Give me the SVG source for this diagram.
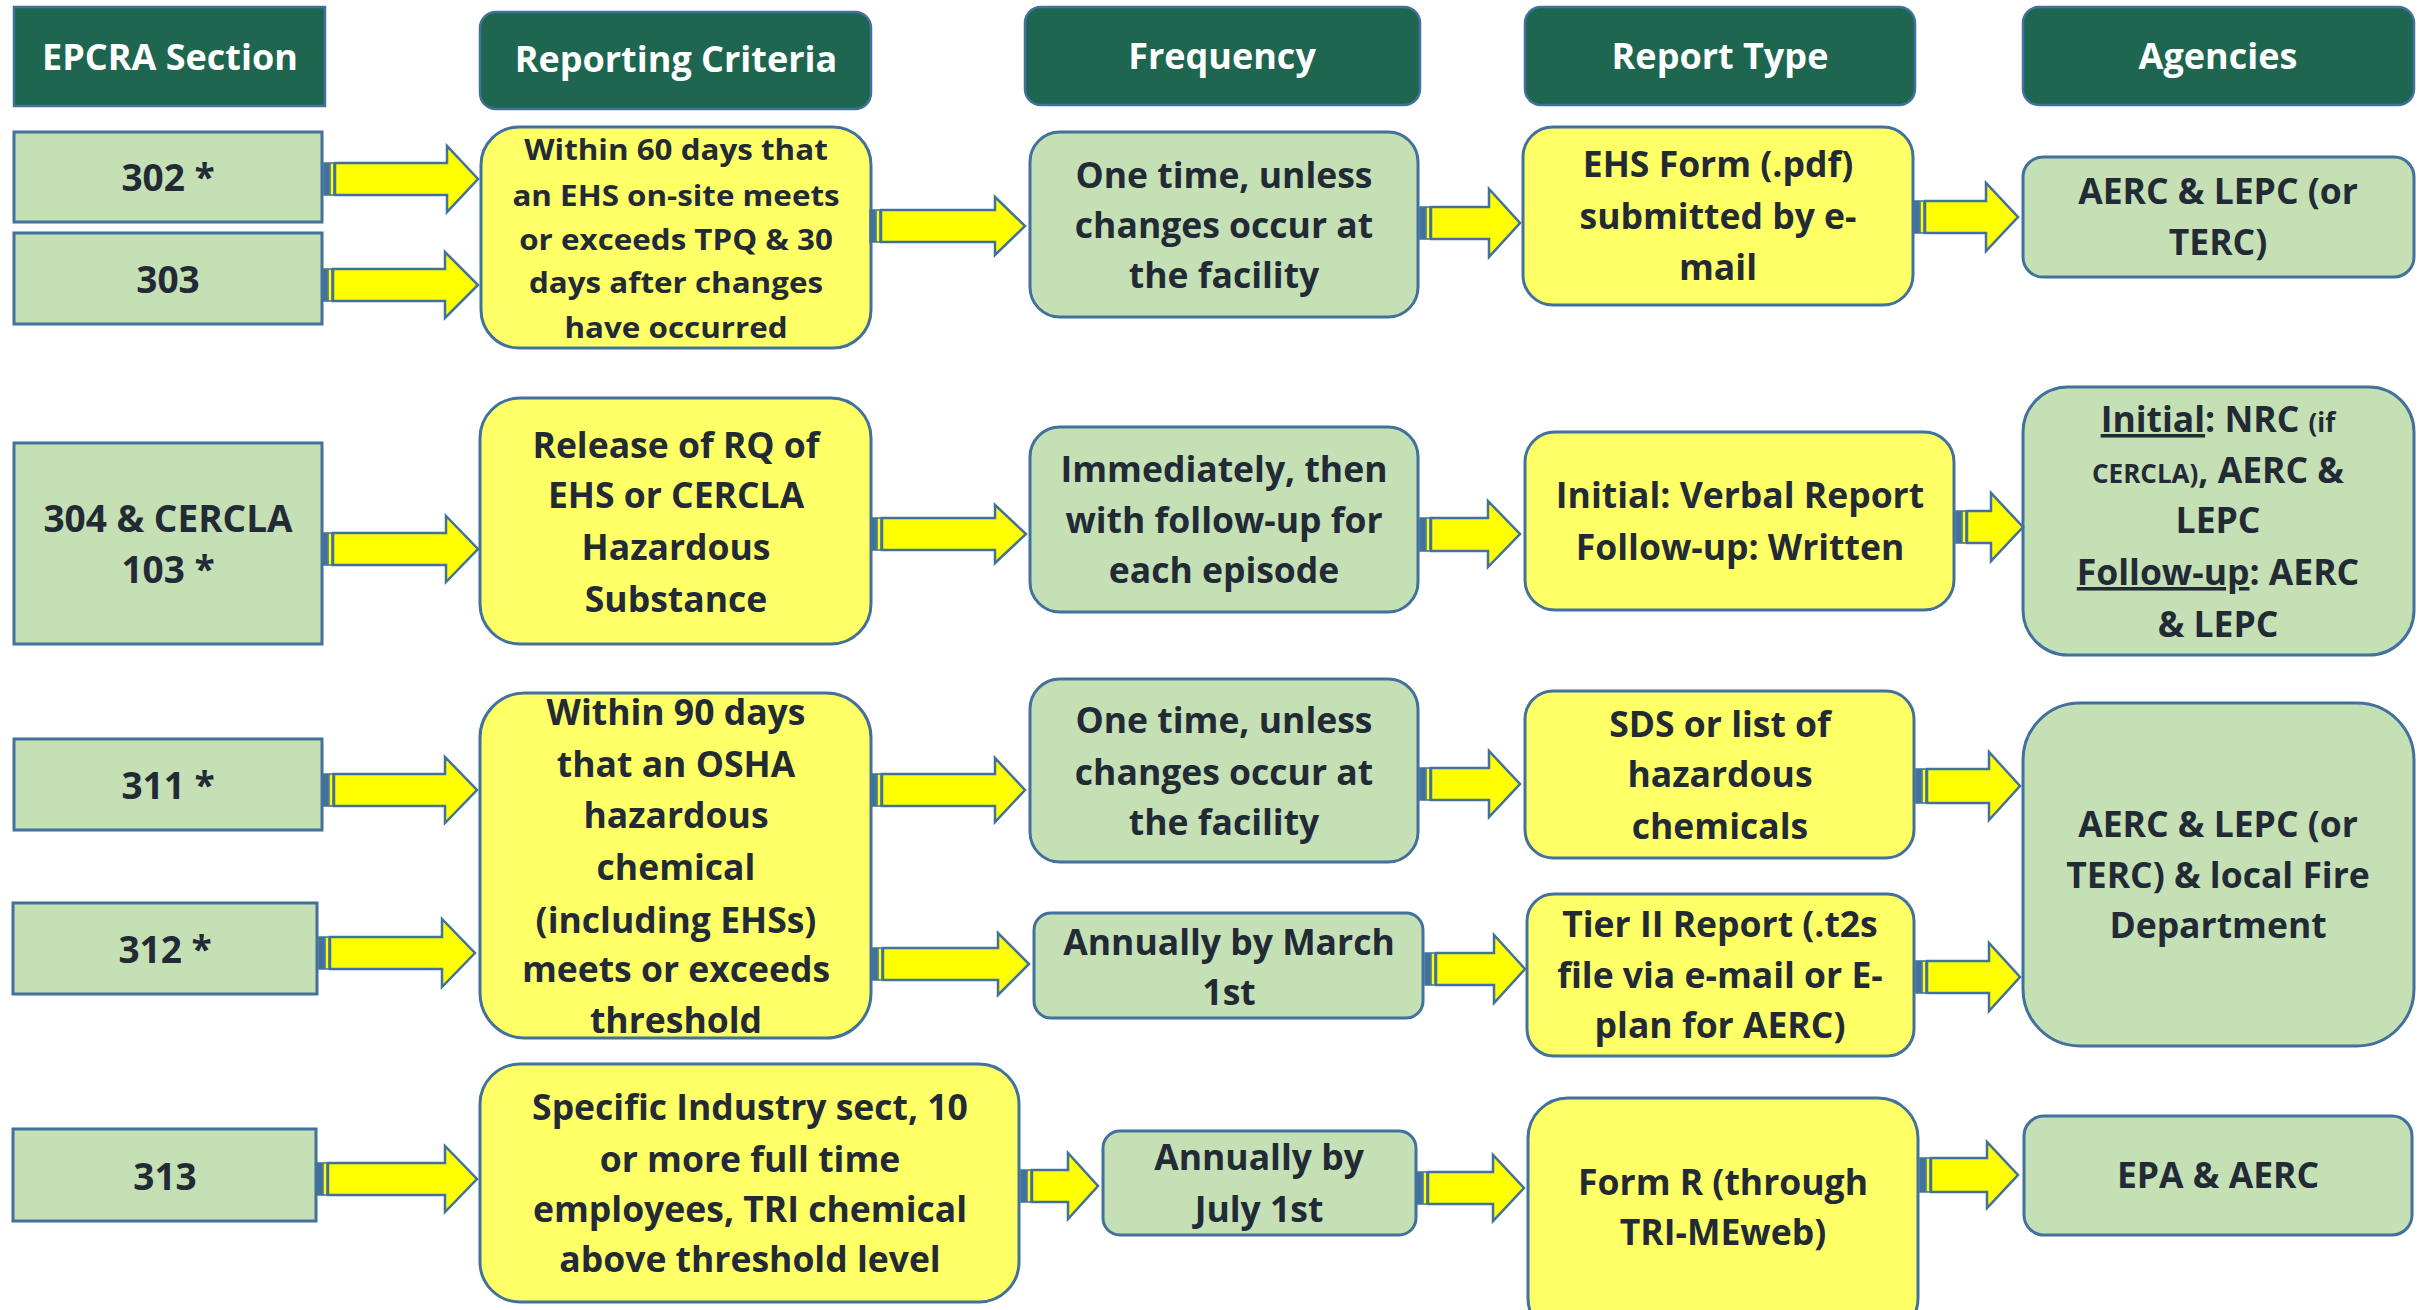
<svg xmlns="http://www.w3.org/2000/svg" width="2425" height="1310" viewBox="0 0 2425 1310">
<style>
  .bg{fill:#FFFFFF}
  .hdr{fill:#1E6650;stroke:#41719C;stroke-width:2.5}
  .sec{fill:#C5E0B4;stroke:#41719C;stroke-width:3}
  .grn{fill:#C5E0B4;stroke:#41719C;stroke-width:3}
  .yel{fill:#FFFF66;stroke:#41719C;stroke-width:3}
  text{font-family:"Open Sans","Liberation Sans",sans-serif;font-weight:700;font-size:35.5px;fill:#222A35;text-anchor:middle}
  .ht{fill:#FFFFFF;font-size:36px}
  .st{font-size:37px}
  .sm{font-size:26px}
  .ul{text-decoration:underline}
  .ab{fill:#41719C;stroke:#41719C;stroke-width:1.5}
  .as{fill:#FFFF00;stroke:#41719C;stroke-width:1.5}
  .ar{fill:#FFFF00;stroke:#41719C;stroke-width:2.5;stroke-linejoin:miter}
</style>
<rect class="bg" x="0" y="0" width="2425" height="1310"/>

<!-- Headers -->
<g id="hdr-section"><rect class="hdr" x="14" y="7" width="311" height="99"/><text class="ht" x="170" y="70">EPCRA Section</text></g>
<g id="hdr-criteria"><rect class="hdr" x="480" y="12" width="391" height="97" rx="16"/><text class="ht" x="676" y="72">Reporting Criteria</text></g>
<g id="hdr-frequency"><rect class="hdr" x="1025" y="7" width="395" height="98" rx="16"/><text class="ht" x="1222" y="69">Frequency</text></g>
<g id="hdr-reporttype"><rect class="hdr" x="1525" y="7" width="390" height="98" rx="16"/><text class="ht" x="1720" y="69">Report Type</text></g>
<g id="hdr-agencies"><rect class="hdr" x="2023" y="7" width="391" height="98" rx="16"/><text class="ht" x="2218" y="69">Agencies</text></g>

<!-- Section nodes -->
<g id="s302"><rect class="sec" x="14" y="132" width="308" height="90"/><text class="st" x="168" y="191">302 *</text></g>
<g id="s303"><rect class="sec" x="14" y="233" width="308" height="91"/><text class="st" x="168" y="293">303</text></g>
<g id="s304"><rect class="sec" x="14" y="443" width="308" height="201"/><text class="st" x="168" y="532">304 &amp; CERCLA</text><text class="st" x="168" y="583">103 *</text></g>
<g id="s311"><rect class="sec" x="14" y="739" width="308" height="91"/><text class="st" x="168" y="799">311 *</text></g>
<g id="s312"><rect class="sec" x="13" y="903" width="304" height="91"/><text class="st" x="165" y="963">312 *</text></g>
<g id="s313"><rect class="sec" x="13" y="1129" width="303" height="92"/><text class="st" x="165" y="1190">313</text></g>

<!-- Criteria nodes -->
<g id="crit-60days"><rect class="yel" x="481" y="127" width="390" height="221" rx="38"/>
<text transform="translate(676 0) scale(1.12 1)" style="font-size:28px"><tspan x="0" y="160">Within 60 days that</tspan><tspan x="0" y="206">an EHS on-site meets</tspan><tspan x="0" y="250">or exceeds TPQ &amp; 30</tspan><tspan x="0" y="293">days after changes</tspan><tspan x="0" y="338">have occurred</tspan></text></g>
<g id="crit-release"><rect class="yel" x="480" y="398" width="391" height="246" rx="40"/>
<text transform="translate(676 0)"><tspan x="0" y="458">Release of RQ of</tspan><tspan x="0" y="508">EHS or CERCLA</tspan><tspan x="0" y="560">Hazardous</tspan><tspan x="0" y="612">Substance</tspan></text></g>
<g id="crit-90days"><rect class="yel" x="480" y="693" width="391" height="345" rx="45"/>
<text transform="translate(676 0)"><tspan x="0" y="725">Within 90 days</tspan><tspan x="0" y="777">that an OSHA</tspan><tspan x="0" y="828">hazardous</tspan><tspan x="0" y="880">chemical</tspan><tspan x="0" y="933">(including EHSs)</tspan><tspan x="0" y="982">meets or exceeds</tspan><tspan x="0" y="1033">threshold</tspan></text></g>
<g id="crit-industry"><rect class="yel" x="480" y="1064" width="539" height="238" rx="40"/>
<text transform="translate(750 0)"><tspan x="0" y="1120">Specific Industry sect, 10</tspan><tspan x="0" y="1172">or more full time</tspan><tspan x="0" y="1222">employees, TRI chemical</tspan><tspan x="0" y="1272">above threshold level</tspan></text></g>

<!-- Frequency nodes -->
<g id="freq-onetime-1"><rect class="grn" x="1030" y="132" width="388" height="185" rx="30"/>
<text transform="translate(1224 0)"><tspan x="0" y="188">One time, unless</tspan><tspan x="0" y="238">changes occur at</tspan><tspan x="0" y="288">the facility</tspan></text></g>
<g id="freq-immediately"><rect class="grn" x="1030" y="427" width="388" height="185" rx="30"/>
<text transform="translate(1224 0)"><tspan x="0" y="482">Immediately, then</tspan><tspan x="0" y="533">with follow-up for</tspan><tspan x="0" y="583">each episode</tspan></text></g>
<g id="freq-onetime-2"><rect class="grn" x="1030" y="679" width="388" height="183" rx="30"/>
<text transform="translate(1224 0)"><tspan x="0" y="733">One time, unless</tspan><tspan x="0" y="785">changes occur at</tspan><tspan x="0" y="835">the facility</tspan></text></g>
<g id="freq-march"><rect class="grn" x="1034" y="913" width="389" height="105" rx="17"/>
<text transform="translate(1229 0)"><tspan x="0" y="955">Annually by March</tspan><tspan x="0" y="1005">1st</tspan></text></g>
<g id="freq-july"><rect class="grn" x="1103" y="1131" width="313" height="104" rx="17"/>
<text transform="translate(1259 0)"><tspan x="0" y="1170">Annually by</tspan><tspan x="0" y="1222">July 1st</tspan></text></g>

<!-- Report type nodes -->
<g id="rep-ehsform"><rect class="yel" x="1523" y="127" width="390" height="178" rx="30"/>
<text transform="translate(1718 0)"><tspan x="0" y="177">EHS Form (.pdf)</tspan><tspan x="0" y="229">submitted by e-</tspan><tspan x="0" y="280">mail</tspan></text></g>
<g id="rep-verbal"><rect class="yel" x="1525" y="432" width="429" height="178" rx="30"/>
<text transform="translate(1740 0)"><tspan x="0" y="508">Initial: Verbal Report</tspan><tspan x="0" y="560">Follow-up: Written</tspan></text></g>
<g id="rep-sds"><rect class="yel" x="1525" y="691" width="389" height="167" rx="28"/>
<text transform="translate(1720 0)"><tspan x="0" y="737">SDS or list of</tspan><tspan x="0" y="787">hazardous</tspan><tspan x="0" y="839">chemicals</tspan></text></g>
<g id="rep-tier2"><rect class="yel" x="1527" y="894" width="387" height="162" rx="27"/>
<text transform="translate(1720 0)"><tspan x="0" y="937">Tier II Report (.t2s</tspan><tspan x="0" y="988">file via e-mail or E-</tspan><tspan x="0" y="1038">plan for AERC)</tspan></text></g>
<g id="rep-formr"><rect class="yel" x="1528" y="1098" width="390" height="240" rx="40"/>
<text transform="translate(1723 0)"><tspan x="0" y="1195">Form R (through</tspan><tspan x="0" y="1245">TRI-MEweb)</tspan></text></g>

<!-- Agency nodes -->
<g id="ag-aerc-lepc"><rect class="grn" x="2023" y="157" width="391" height="120" rx="20"/>
<text transform="translate(2218 0)"><tspan x="0" y="204">AERC &amp; LEPC (or</tspan><tspan x="0" y="255">TERC)</tspan></text></g>
<g id="ag-nrc"><rect class="grn" x="2023" y="387" width="391" height="268" rx="45"/>
<text transform="translate(2218 0)"><tspan x="0" y="432"><tspan class="ul">Initial</tspan>: NRC <tspan class="sm">(if</tspan></tspan><tspan x="0" y="483"><tspan class="sm">CERCLA)</tspan>, AERC &amp;</tspan><tspan x="0" y="533">LEPC</tspan><tspan x="0" y="585"><tspan class="ul">Follow-up</tspan>: AERC</tspan><tspan x="0" y="637">&amp; LEPC</tspan></text></g>
<g id="ag-fire"><rect class="grn" x="2023" y="703" width="391" height="343" rx="57"/>
<text transform="translate(2218 0)"><tspan x="0" y="837">AERC &amp; LEPC (or</tspan><tspan x="0" y="888">TERC) &amp; local Fire</tspan><tspan x="0" y="938">Department</tspan></text></g>
<g id="ag-epa"><rect class="grn" x="2024" y="1116" width="388" height="119" rx="20"/>
<text x="2218" y="1188">EPA &amp; AERC</text></g>

<!-- Connectors: striped block arrows -->
<g id="connectors">
  <g id="a1"><rect class="ab" x="324" y="163" width="5" height="32"/><rect class="as" x="330" y="163" width="4" height="32"/><polygon class="ar" points="335,163 447,163 447,146 478,179 447,212 447,195 335,195"/></g>
  <g id="a2"><rect class="ab" x="322" y="269" width="5" height="32"/><rect class="as" x="328" y="269" width="4" height="32"/><polygon class="ar" points="333,269 445,269 445,252 478,285 445,318 445,301 333,301"/></g>
  <g id="a3"><rect class="ab" x="870" y="210" width="5" height="32"/><rect class="as" x="876" y="210" width="4" height="32"/><polygon class="ar" points="881,210 995,210 995,197 1025,226 995,255 995,242 881,242"/></g>
  <g id="a4"><rect class="ab" x="1420" y="207" width="5" height="32"/><rect class="as" x="1426" y="207" width="4" height="32"/><polygon class="ar" points="1431,207 1489,207 1489,189 1520,223 1489,257 1489,239 1431,239"/></g>
  <g id="a5"><rect class="ab" x="1914" y="201" width="5" height="32"/><rect class="as" x="1920" y="201" width="4" height="32"/><polygon class="ar" points="1925,201 1986,201 1986,183 2018,217 1986,251 1986,233 1925,233"/></g>
  <g id="a6"><rect class="ab" x="322" y="533" width="5" height="32"/><rect class="as" x="328" y="533" width="4" height="32"/><polygon class="ar" points="333,533 446,533 446,516 478,549 446,582 446,565 333,565"/></g>
  <g id="a7"><rect class="ab" x="871" y="518" width="5" height="32"/><rect class="as" x="877" y="518" width="4" height="32"/><polygon class="ar" points="882,518 995,518 995,505 1026,534 995,563 995,550 882,550"/></g>
  <g id="a8"><rect class="ab" x="1420" y="518" width="5" height="33"/><rect class="as" x="1426" y="518" width="4" height="33"/><polygon class="ar" points="1431,518 1488,518 1488,501 1520,534 1488,567 1488,551 1431,551"/></g>
  <g id="a9"><rect class="ab" x="1956" y="511" width="5" height="32"/><rect class="as" x="1962" y="511" width="4" height="32"/><polygon class="ar" points="1967,511 1991,511 1991,493 2023,527 1991,561 1991,543 1967,543"/></g>
  <g id="a10"><rect class="ab" x="323" y="774" width="5" height="32"/><rect class="as" x="329" y="774" width="4" height="32"/><polygon class="ar" points="334,774 445,774 445,757 477,790 445,823 445,806 334,806"/></g>
  <g id="a11"><rect class="ab" x="319" y="937" width="5" height="32"/><rect class="as" x="325" y="937" width="4" height="32"/><polygon class="ar" points="330,937 442,937 442,919 475,953 442,987 442,969 330,969"/></g>
  <g id="a12"><rect class="ab" x="871" y="774" width="5" height="32"/><rect class="as" x="877" y="774" width="4" height="32"/><polygon class="ar" points="882,774 995,774 995,758 1025,790 995,822 995,806 882,806"/></g>
  <g id="a13"><rect class="ab" x="872" y="948" width="5" height="32"/><rect class="as" x="878" y="948" width="4" height="32"/><polygon class="ar" points="883,948 998,948 998,933 1029,964 998,995 998,980 883,980"/></g>
  <g id="a14"><rect class="ab" x="1420" y="768" width="5" height="32"/><rect class="as" x="1426" y="768" width="4" height="32"/><polygon class="ar" points="1431,768 1489,768 1489,751 1520,784 1489,817 1489,800 1431,800"/></g>
  <g id="a15"><rect class="ab" x="1916" y="769" width="5" height="34"/><rect class="as" x="1922" y="769" width="4" height="34"/><polygon class="ar" points="1927,769 1989,769 1989,752 2020,786 1989,820 1989,803 1927,803"/></g>
  <g id="a16"><rect class="ab" x="1425" y="953" width="5" height="32"/><rect class="as" x="1431" y="953" width="4" height="32"/><polygon class="ar" points="1436,953 1494,953 1494,935 1525,969 1494,1003 1494,985 1436,985"/></g>
  <g id="a17"><rect class="ab" x="1916" y="961" width="5" height="32"/><rect class="as" x="1922" y="961" width="4" height="32"/><polygon class="ar" points="1927,961 1989,961 1989,943 2020,977 1989,1011 1989,993 1927,993"/></g>
  <g id="a18"><rect class="ab" x="317" y="1163" width="5" height="32"/><rect class="as" x="323" y="1163" width="4" height="32"/><polygon class="ar" points="328,1163 445,1163 445,1146 477,1179 445,1212 445,1195 328,1195"/></g>
  <g id="a19"><rect class="ab" x="1021" y="1170" width="5" height="32"/><rect class="as" x="1027" y="1170" width="4" height="32"/><polygon class="ar" points="1032,1170 1068,1170 1068,1153 1098,1186 1068,1219 1068,1202 1032,1202"/></g>
  <g id="a20"><rect class="ab" x="1417" y="1172" width="5" height="32"/><rect class="as" x="1423" y="1172" width="4" height="32"/><polygon class="ar" points="1428,1172 1493,1172 1493,1155 1524,1188 1493,1221 1493,1204 1428,1204"/></g>
  <g id="a21"><rect class="ab" x="1920" y="1158" width="5" height="34"/><rect class="as" x="1926" y="1158" width="4" height="34"/><polygon class="ar" points="1931,1158 1987,1158 1987,1142 2018,1175 1987,1208 1987,1192 1931,1192"/></g>
</g>
</svg>
